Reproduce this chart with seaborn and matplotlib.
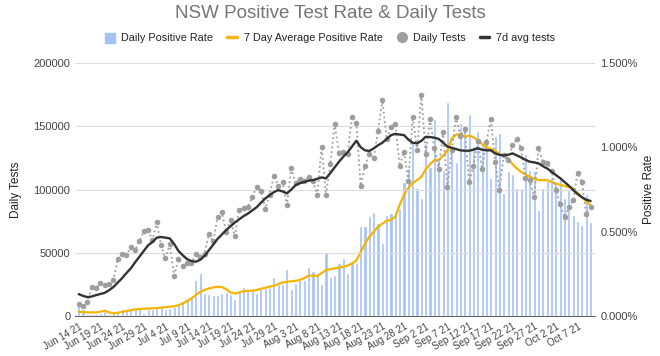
import pandas as pd
import numpy as np
import matplotlib.pyplot as plt
import seaborn as sns
from matplotlib.lines import Line2D
from matplotlib.patches import Patch
from matplotlib.ticker import FuncFormatter
from matplotlib.transforms import ScaledTranslation

# dates: Jun 14 2021 .. Oct 10 2021
dates = pd.date_range('2021-06-14', periods=119)
day = np.arange(len(dates))
tick_days = day[::5]
tick_labels = [f"{d:%b} {d.day} 21" for d in dates[::5]]

# daily positive rate (%)
daily_rate = [0.065, 0.045, 0.012, 0.015, 0.01, 0.02, 0.03, 0.015, 0.02, 0.03,
              0.04, 0.035, 0.045, 0.05, 0.05, 0.02, 0.045, 0.045, 0.05, 0.065,
              0.045, 0.05, 0.055, 0.075, 0.09, 0.11, 0.12, 0.217, 0.257, 0.138,
              0.134, 0.124, 0.124, 0.138, 0.144, 0.134, 0.099, 0.154, 0.17, 0.158,
              0.154, 0.138, 0.174, 0.164, 0.17, 0.229, 0.19, 0.19, 0.277, 0.158,
              0.197, 0.213, 0.217, 0.289, 0.269, 0.257, 0.19, 0.381, 0.233, 0.243,
              0.312, 0.342, 0.253, 0.322, 0.316, 0.533, 0.533, 0.593, 0.618, 0.553,
              0.435, 0.599, 0.609, 0.618, 0.638, 0.796, 0.875, 1.033, 0.757, 0.698,
              1.024, 0.885, 1.166, 0.935, 0.865, 1.27, 0.974, 0.915, 1.146, 1.10,
              1.195, 1.008, 1.099, 1.014, 1.043, 0.816, 1.067, 1.087, 0.731, 0.861,
              0.842, 0.757, 0.757, 0.96, 0.865, 0.861, 0.628, 0.757, 0.80, 0.826,
              0.79, 0.822, 0.698, 0.747, 0.599, 0.565, 0.539, 0.723, 0.559]

# 7 day average positive rate (%)
avg_rate = [0.026, 0.024, 0.022, 0.022, 0.022, 0.026, 0.032, 0.022, 0.016, 0.02,
            0.025, 0.03, 0.035, 0.04, 0.042, 0.043, 0.045, 0.046, 0.048, 0.05,
            0.053, 0.056, 0.058, 0.065, 0.075, 0.09, 0.105, 0.125, 0.144, 0.155,
            0.164, 0.17, 0.174, 0.172, 0.16, 0.14, 0.134, 0.14, 0.148, 0.15,
            0.15, 0.155, 0.162, 0.168, 0.175, 0.18, 0.19, 0.2, 0.203, 0.207,
            0.209, 0.215, 0.225, 0.24, 0.24, 0.237, 0.255, 0.273, 0.278, 0.283,
            0.288, 0.292, 0.3, 0.312, 0.33, 0.38, 0.43, 0.47, 0.5, 0.53,
            0.548, 0.565, 0.57, 0.59, 0.66, 0.72, 0.76, 0.79, 0.806, 0.826,
            0.87, 0.9, 0.925, 0.925, 0.95, 0.98, 1.053, 1.075, 1.08, 1.063,
            1.07, 1.06, 1.043, 1.02, 1.0, 0.99, 0.98, 0.96, 0.948, 0.935,
            0.9, 0.875, 0.855, 0.84, 0.826, 0.815, 0.806, 0.806, 0.806, 0.795,
            0.786, 0.778, 0.771, 0.765, 0.757, 0.73, 0.705, 0.68, 0.658]

# daily tests
daily_tests = [9500, 8000, 11000, 23000, 22000, 26000, 24500, 25000, 28500, 45000,
               49000, 48000, 55000, 52000, 59500, 67000, 68000, 60000, 74000, 56000,
               45600, 57000, 32000, 45000, 40000, 42000, 42000, 49000, 47000, 49000,
               65000, 59000, 78000, 82000, 66600, 76000, 63000, 84000, 85600, 86400,
               94000, 102000, 99000, 85000, 95600, 111000, 103000, 106000, 87700, 116700,
               105000, 108000, 107000, 109600, 107000, 95600, 134000, 95600, 120000, 152000,
               129000, 130000, 128000, 157600, 152800, 103000, 119000, 128000, 125000, 146000,
               171000, 140000, 149700, 152000, 118600, 130000, 107000, 157600, 131000, 175000,
               128000, 155500, 132600, 116000, 145700, 101700, 131000, 157600, 142000, 148000,
               106000, 119000, 138600, 116000, 137800, 156000, 122000, 100000, 127000, 123000,
               135000, 139700, 132600, 108800, 107500, 94000, 132600, 122000, 121000, 115000,
               99600, 88500, 78000, 86000, 91700, 112800, 106000, 80600, 86400]

# 7d avg tests
avg_tests = [17400, 16000, 15000, 15500, 16600, 17500, 18400, 20500, 23000, 26500,
             30000, 34000, 37700, 42500, 47000, 51500, 56000, 58500, 62000, 62500,
             62000, 61400, 57000, 51500, 48000, 45000, 43500, 43000, 44500, 47500,
             52000, 56500, 61000, 64500, 68000, 71000, 74000, 76500, 79000, 81000,
             83500, 86000, 89500, 93000, 95500, 98000, 99600, 98500, 97000, 100000,
             103500, 105000, 106000, 107000, 107500, 108500, 109600, 108800, 113000, 117500,
             122000, 126000, 129500, 134000, 138600, 133500, 131000, 130500, 132500, 135000,
             137000, 140000, 143000, 144000, 143500, 143000, 139500, 137000, 136500, 138500,
             141700, 141500, 141000, 140000, 137000, 134000, 133000, 132000, 131000, 130700,
             130700, 131500, 132600, 131500, 131000, 131000, 128600, 127500, 127000, 127500,
             128600, 127000, 125400, 123500, 122000, 121500, 120700, 118500, 116700, 114000,
             111500, 109000, 106000, 103000, 99600, 96500, 94000, 92000, 91000]

df = pd.DataFrame({'day': day, 'rate': daily_rate, 'avg_rate': avg_rate,
                   'tests': daily_tests, 'avg_tests': avg_tests})

sns.set_style('white')
plt.rcParams['font.family'] = ['Liberation Sans', 'DejaVu Sans']

BLUE = '#a4c2f4'
YELLOW = '#f4b400'
GREY = '#9e9e9e'
DARK = '#333333'
TICK = '#444444'

fig = plt.figure(figsize=(6.6, 3.56), dpi=100)
ax = fig.add_axes([0.114, 0.112, 0.788, 0.711])

# rate axis (right side): bars + 7 day avg
sns.barplot(data=df, x='day', y='rate', native_scale=True, color=BLUE,
            saturation=1, width=0.72, errorbar=None, ax=ax)
sns.lineplot(data=df, x='day', y='avg_rate', color=YELLOW, lw=1.6, ax=ax)

# tests axis (left side)
ax_t = ax.twinx()
sns.lineplot(data=df, x='day', y='tests', color=GREY, lw=1.3,
             linestyle=(0, (1, 1.6)), marker='o', markersize=4,
             markeredgewidth=0, ax=ax_t)
sns.lineplot(data=df, x='day', y='avg_tests', color=DARK, lw=1.7, ax=ax_t)

ax.yaxis.tick_right()
ax.yaxis.set_label_position('right')
ax_t.yaxis.tick_left()
ax_t.yaxis.set_label_position('left')

ax.set_xlim(-0.8, 119.1)
ax.set_ylim(0, 1.5)
ax.set_yticks([0, 0.5, 1.0, 1.5])
ax.yaxis.set_major_formatter(FuncFormatter(lambda v, p: f"{v:.3f}%"))
ax_t.set_ylim(0, 200000)
ax_t.set_yticks([0, 50000, 100000, 150000, 200000])
ax_t.yaxis.set_major_formatter(FuncFormatter(lambda v, p: f"{int(v)}"))

ax.set_xticks(tick_days)
ax.set_xticklabels(tick_labels, rotation=30, ha='right', rotation_mode='anchor')
shift = ScaledTranslation(6 / 100, 0, fig.dpi_scale_trans)
for lbl in ax.get_xticklabels():
    lbl.set_transform(lbl.get_transform() + shift)

ax_t.grid(axis='y', color='#dcdcdc', lw=0.8)
ax.grid(False)
for a in (ax, ax_t):
    for s in a.spines.values():
        s.set_visible(False)
    a.tick_params(length=0, labelsize=8, colors=TICK)
ax.spines['bottom'].set_visible(True)
ax.spines['bottom'].set_color('#666666')
ax.tick_params(axis='x', pad=4, labelsize=7)

ax.set_xlabel('')
ax_t.set_ylabel('Daily Tests', fontsize=8.5, color='#222222', labelpad=8)
ax.set_ylabel('Positive Rate', fontsize=8.5, color='#222222', labelpad=4)

fig.text(0.5, 0.985, 'NSW Positive Test Rate & Daily Tests', ha='center', va='top',
         fontsize=13.5, color='#757575')

handles = [Patch(color=BLUE),
           Line2D([], [], color=YELLOW, lw=2.5),
           Line2D([], [], color=GREY, marker='o', lw=0, markersize=7),
           Line2D([], [], color=DARK, lw=2.5)]
labels = ['Daily Positive Rate', '7 Day Average Positive Rate', 'Daily Tests', '7d avg tests']
fig.legend(handles, labels, loc='center', bbox_to_anchor=(0.5, 0.893), ncol=4,
           frameon=False, fontsize=7.8, handlelength=0.9, handleheight=1.0,
           columnspacing=1.3, handletextpad=0.6, labelcolor='#222222')

fig.savefig('out.png', dpi=100)
